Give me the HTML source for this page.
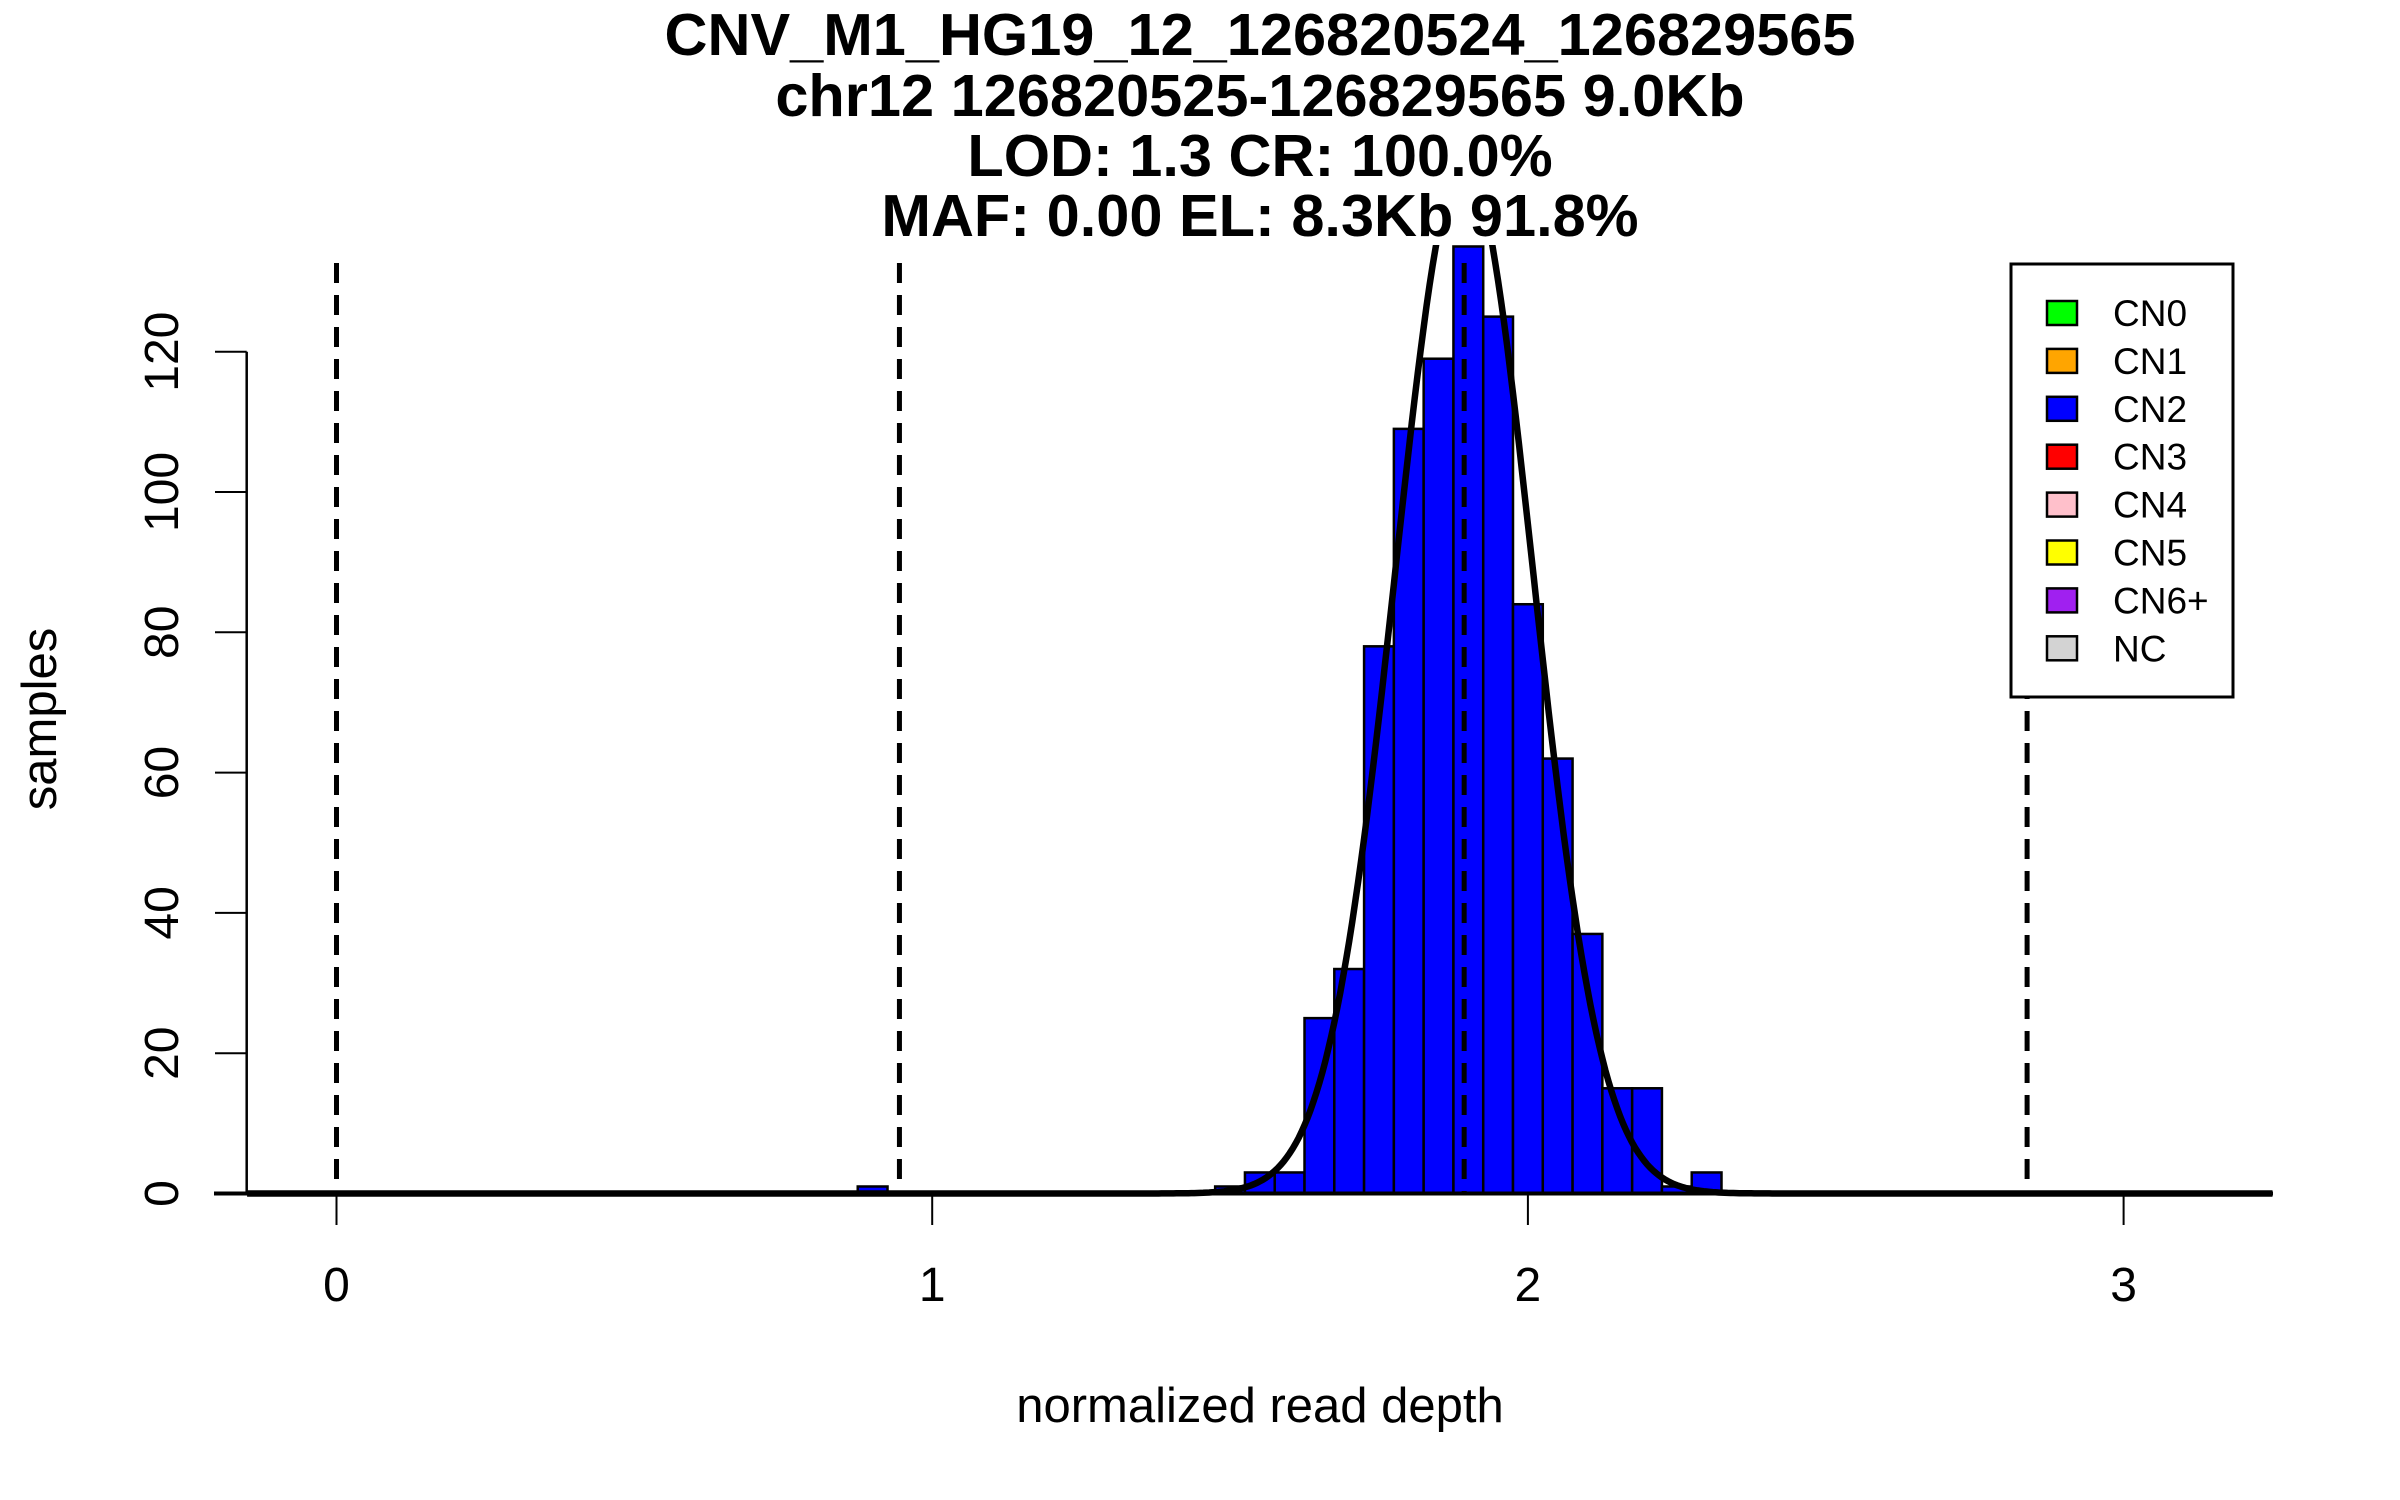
<!DOCTYPE html>
<html><head><meta charset="utf-8"><style>
html,body{margin:0;padding:0;background:#fff}
svg{display:block;font-family:"Liberation Sans",sans-serif}
</style></head><body>
<svg id="chart" width="2400" height="1500" viewBox="0 0 2400 1500" xmlns="http://www.w3.org/2000/svg">
<defs><clipPath id="plotclip"><rect x="214" y="245" width="2072" height="960"/></clipPath></defs>
<g font-weight="bold" font-size="59.5" text-anchor="middle" fill="#000">
<text x="1260" y="55">CNV_M1_HG19_12_126820524_126829565</text>
<text x="1260" y="116">chr12 126820525-126829565 9.0Kb</text>
<text x="1260" y="176">LOD: 1.3 CR: 100.0%</text>
<text x="1260" y="236">MAF: 0.00 EL: 8.3Kb 91.8%</text>
</g>
<g id="bars" clip-path="url(#plotclip)"></g>
<g id="curve" clip-path="url(#plotclip)"></g>
<g id="dashes"></g>
<g id="axes"></g>
<text x="1260" y="1422" font-size="49" text-anchor="middle">normalized read depth</text>
<text transform="translate(56,719) rotate(-90)" font-size="49" text-anchor="middle">samples</text>
<g id="legend"></g>
</svg>
<script>
const binStarts = [0.875, 1.475, 1.525, 1.575, 1.625, 1.675, 1.725, 1.775, 1.825, 1.875, 1.925, 1.975, 2.025, 2.075, 2.125, 2.175, 2.225, 2.275];
const binCounts = [1, 1, 3, 3, 25, 32, 78, 109, 119, 135, 125, 84, 62, 37, 15, 15, 1, 3];
const binWidth = 0.05;
const thresholds = [0, 0.945, 1.893, 2.838];
const fitMean = 1.893;
const fitSd = 0.115;
const xTicks = [0, 1, 2, 3];
const yTicks = [0, 20, 40, 60, 80, 100, 120];
const legendLabels = ["CN0","CN1","CN2","CN3","CN4","CN5","CN6+","NC"];
const legendColors = ["#00ff00","#ffa500","#0000ff","#ff0000","#ffc0cb","#ffff00","#a020f0","#d3d3d3"];

const NS = "http://www.w3.org/2000/svg";
const X = v => 336.5 + 595.7 * v;
const Y = c => 1193.5 - 7.015 * c;
function mk(tag, attrs, parent){const e=document.createElementNS(NS,tag);for(const k in attrs)e.setAttribute(k,attrs[k]);parent.appendChild(e);return e;}

const gb = document.getElementById('bars');
binStarts.forEach((s,i)=>{
  const r = mk('rect',{x:X(s),y:Y(binCounts[i]),width:X(s+binWidth)-X(s),height:Y(0)-Y(binCounts[i]),fill:'#0000ff',stroke:'#000','stroke-width':2.5},gb);
  
  
});

const total = binCounts.reduce((a,b)=>a+b,0);
const gc = document.getElementById('curve');
let d='';
for(let v=-0.15; v<=3.25; v+=0.005){
  const dens = total*binWidth/(fitSd*Math.sqrt(2*Math.PI))*Math.exp(-Math.pow(v-fitMean,2)/(2*fitSd*fitSd));
  d += (d?'L':'M')+X(v).toFixed(1)+','+Y(dens).toFixed(1);
}
const cp = mk('path',{d:d,fill:'none',stroke:'#000','stroke-width':6.5},gc);



const gd = document.getElementById('dashes');
thresholds.forEach(t=>{
  const l = mk('line',{x1:X(t),x2:X(t),y1:263,y2:Y(0),stroke:'#000','stroke-width':5,'stroke-dasharray':'20 12'},gd);
  
  
});

const ga = document.getElementById('axes');
const base = mk('line',{x1:214,x2:2273,y1:Y(0),y2:Y(0),stroke:'#000','stroke-width':4},ga);


xTicks.forEach(t=>{
  const tk = mk('line',{x1:X(t),x2:X(t),y1:Y(0),y2:1225,stroke:'#000','stroke-width':2},ga);
  
  
  const tx = mk('text',{x:X(t),y:1301,'font-size':48,'text-anchor':'middle'},ga);
  tx.textContent = t;
  
  
});
const yl = mk('line',{x1:246.7,x2:246.7,y1:Y(0),y2:Y(yTicks[yTicks.length-1]),stroke:'#000','stroke-width':2.5},ga);


yTicks.forEach(t=>{
  const tk = mk('line',{x1:215,x2:246.7,y1:Y(t),y2:Y(t),stroke:'#000','stroke-width':2},ga);
  
  
  const tx = mk('text',{transform:'translate(178,'+Y(t)+') rotate(-90)','font-size':48,'text-anchor':'middle'},ga);
  tx.textContent = t;
  
  
});

const gl = document.getElementById('legend');
const box = mk('rect',{x:2011,y:264,width:222,height:433,fill:'#fff',stroke:'#000','stroke-width':3},gl);


legendLabels.forEach((lab,i)=>{
  const cy = 313 + i*47.9;
  const sq = mk('rect',{x:2047,y:cy-12,width:30,height:24,fill:legendColors[i],stroke:'#000','stroke-width':2.5},gl);
  
  
  const tx = mk('text',{x:2113,y:cy+13,'font-size':37},gl);
  tx.textContent = lab;
  
  
});
</script>
</body></html>
